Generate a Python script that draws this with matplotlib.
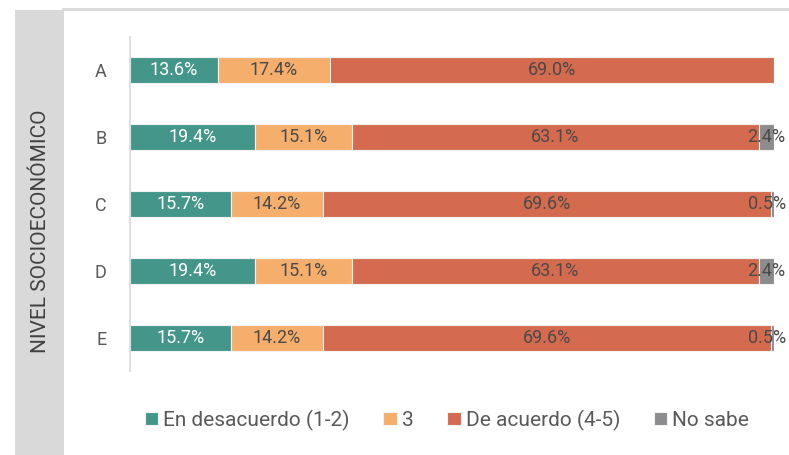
import matplotlib
matplotlib.use("Agg")
import matplotlib.pyplot as plt
from matplotlib.patches import Rectangle
from matplotlib.lines import Line2D
from matplotlib.transforms import offset_copy
import numpy as np

categories = ["A", "B", "C", "D", "E"]
series_names = ["En desacuerdo (1-2)", "3", "De acuerdo (4-5)", "No sabe"]
desacuerdo = [13.6, 19.4, 15.7, 19.4, 15.7]
neutral = [17.4, 15.1, 14.2, 15.1, 14.2]
acuerdo = [69.0, 63.1, 69.6, 63.1, 69.6]
no_sabe = [0.0, 2.4, 0.5, 2.4, 0.5]
colors = ["#45968A", "#F5AE6B", "#D46A4E", "#8C8C8E"]
label_colors = ["white", "#4A4A4A", "#4A4A4A", "#4A4A4A"]

plt.rcParams['font.family'] = ['Roboto', 'DejaVu Sans']
FW = "normal"

fig = plt.figure(figsize=(7.89, 4.55), dpi=100)
W, H = 789, 455
# left gray panel
fig.patches.append(Rectangle((15 / W, 0), 49 / W, 1 - 10 / H, transform=fig.transFigure,
                             facecolor="#D9D9D9", edgecolor="none", zorder=0))
fig.lines.append(Line2D([63 / W, 1], [1 - 9 / H, 1 - 9 / H], transform=fig.transFigure,
                        color="#D9D9D9", lw=2))
fig.text(41 / W, 1 - 231 / H, "NIVEL SOCIOECONÓMICO", rotation=90, ha="center", va="center",
         fontsize=15, color="#404040", fontweight=FW)

ax = fig.add_axes([130 / W, 1 - 371 / H, 644 / W, 334 / H])
y = np.arange(len(categories))
data = [desacuerdo, neutral, acuerdo, no_sabe]
left = np.zeros(len(categories))
handles = []
for vals, c, lc, name in zip(data, colors, label_colors, series_names):
    vals = np.array(vals)
    b = ax.barh(y, vals, left=left, height=0.39, color=c, edgecolor="#F2F2F2", linewidth=0.8,
                label=name)
    handles.append(b)
    for yi, v, l in zip(y, vals, left):
        if v > 0:
            tr = ax.transData
            if l + v / 2 > 99:
                tr = offset_copy(ax.transData, fig=fig, x=-5, y=0, units="dots")
            ax.text(l + v / 2, yi, f"{v:.1f}%", ha="center", va="center", color=lc,
                    fontsize=13, fontweight=FW, clip_on=False, transform=tr)
    left = left + vals

ax.set_xlim(0, 100)
ax.set_ylim(4.5, -0.5)
ax.set_yticks(y)
ax.set_yticklabels(categories, fontsize=13, color="#595959", fontweight=FW)
ax.tick_params(axis="y", length=0, pad=17)
ax.set_xticks([])
for s in ["top", "right", "bottom"]:
    ax.spines[s].set_visible(False)
ax.spines["left"].set_color("#D9D9D9")
ax.spines["left"].set_linewidth(1.2)
ax.set_facecolor("none")

leg = fig.legend(handles=handles, labels=series_names, loc="center", ncol=4,
                 bbox_to_anchor=(447 / W, 1 - 420 / H), frameon=False, fontsize=15,
                 handlelength=0.65, handleheight=0.65, handletextpad=0.25, columnspacing=1.6)
for t in leg.get_texts():
    t.set_color("#595959")
    t.set_fontweight(FW)

fig.savefig("out.png", dpi=100)
